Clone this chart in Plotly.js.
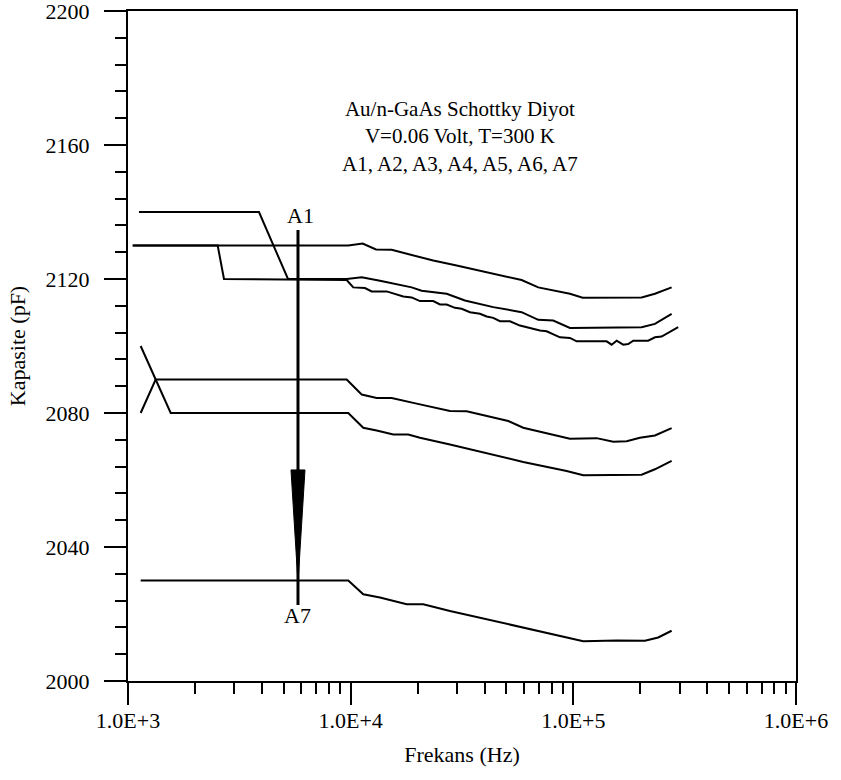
<!DOCTYPE html>
<html><head><meta charset="utf-8">
<script src="https://cdn.plot.ly/plotly-3.0.1.min.js"></script>
<style>html,body{margin:0;padding:0;background:#fff}#chart{width:841px;height:780px}</style>
</head><body><div id="chart"></div>
<script>
// Tick labels
const xTickVals = [1e3, 1e4, 1e5, 1e6];
const xTickText = ['1.0E+3', '1.0E+4', '1.0E+5', '1.0E+6'];
const xMinorVals = [2e3,3e3,4e3,5e3,6e3,7e3,8e3,9e3, 2e4,3e4,4e4,5e4,6e4,7e4,8e4,9e4, 2e5,3e5,4e5,5e5,6e5,7e5,8e5,9e5];
const yTickVals = [2000, 2040, 2080, 2120, 2160, 2200];

// Series (frequency in Hz, capacitance in pF)
const freqA = [1120, 3875, 5230, 9596, 11205, 13538, 18792, 20835, 26986, 32598, 43685, 58588, 69563, 81227, 96541, 202625, 232488, 276376];
const capA  = [2140, 2140, 2120, 2120, 2120.5, 2119.5, 2117.5, 2116.5, 2115.6, 2113.6, 2111.6, 2110.1, 2107.8, 2107.6, 2105.4, 2105.6, 2106.6, 2109.6];

const freqB = [1050, 9755, 11323, 12991, 15286, 19785, 23487, 29923, 40805, 58588, 69563, 96541, 110100, 202625, 232488, 276376];
const capB  = [2130, 2130, 2130.6, 2128.8, 2128.7, 2126.7, 2125.5, 2124.0, 2122.0, 2119.7, 2117.5, 2115.6, 2114.4, 2114.5, 2115.6, 2117.5];

const freqC = [1050, 2528, 2698, 9596, 10273, 11594, 12428, 14510, 17229, 18792, 20473, 23487, 25177, 26986, 29400, 31506, 34331, 38077, 40805, 43685, 46812, 51935, 57571, 61701, 66053, 70795, 75893, 87078, 96541, 103467, 141090, 148594, 156503, 167514, 176417, 185780, 216920, 232488, 249178, 295803];
const capC  = [2130, 2130, 2120, 2119.7, 2117.5, 2117.3, 2116.3, 2116.3, 2114.8, 2114.5, 2113.4, 2113.4, 2112.4, 2112.4, 2111.4, 2111.1, 2110.1, 2109.6, 2108.8, 2108.4, 2107.4, 2107.4, 2106.1, 2105.6, 2104.9, 2104.6, 2104.4, 2102.6, 2102.4, 2101.4, 2101.4, 2100.4, 2101.6, 2100.4, 2100.6, 2101.6, 2101.6, 2102.6, 2102.8, 2105.6];

const freqD = [1140, 1555, 9755, 11393, 13085, 15541, 18145, 20473, 27922, 43685, 59566, 93311, 110787, 202625, 232488, 276376];
const capD  = [2100, 2080, 2080, 2075.6, 2074.8, 2073.6, 2073.6, 2072.6, 2070.6, 2067.4, 2065.4, 2062.7, 2061.4, 2061.6, 2063.2, 2065.7];

const freqE = [1140, 1331, 9596, 11205, 13085, 15286, 19785, 27922, 33180, 43685, 51032, 59566, 96541, 127225, 151082, 173516, 199067, 232488, 276376];
const capE  = [2080, 2090, 2090, 2085.5, 2084.5, 2084.5, 2082.8, 2080.6, 2080.5, 2078.6, 2077.6, 2075.6, 2072.3, 2072.5, 2071.4, 2071.6, 2072.6, 2073.3, 2075.5];

const freqF = [1140, 9755, 11393, 13538, 17846, 21184, 27922, 42221, 61701, 87078, 110787, 156503, 209652, 240548, 276376];
const capF  = [2030, 2030, 2025.9, 2024.9, 2022.9, 2022.9, 2020.9, 2018.2, 2015.7, 2013.4, 2011.9, 2012.1, 2012.0, 2013.0, 2015.0];

// Arrow A1 -> A7 (data coordinates)
const arrowFreq = 5800;
const arrowCap = [2134.6, 2022.7];
const headFreq = [5395, 6235, 5800, 5395];
const headCap = [2063, 2063, 2029.3, 2063];
const labelA1 = {freq: 5950, cap: 2139, text: 'A1'};
const labelA7 = {freq: 5800, cap: 2019.5, text: 'A7'};
const infoLines = ['Au/n-GaAs Schottky Diyot', 'V=0.06 Volt, T=300 K', 'A1, A2, A3, A4, A5, A6, A7'];

const serif = 'Liberation Serif, Times New Roman, serif';
const lineStyle = {color: '#000', width: 2};
const series = [[freqA, capA], [freqB, capB], [freqC, capC], [freqD, capD], [freqE, capE], [freqF, capF]];
const traces = series.map(([f, c]) => ({x: f, y: c, type: 'scatter', mode: 'lines', line: lineStyle, hoverinfo: 'skip', showlegend: false}));
traces.push({x: [arrowFreq, arrowFreq], y: arrowCap, type: 'scatter', mode: 'lines', line: {color: '#000', width: 3}, showlegend: false, hoverinfo: 'skip'});
traces.push({x: headFreq, y: headCap, type: 'scatter', mode: 'lines', fill: 'toself', fillcolor: '#000', line: {color: '#000', width: 1}, showlegend: false, hoverinfo: 'skip'});

const layout = {
  width: 841, height: 780,
  margin: {l: 128, r: 45, t: 11, b: 99},
  paper_bgcolor: '#fff', plot_bgcolor: '#fff',
  font: {family: serif, color: '#000', size: 22},
  showlegend: false,
  xaxis: {
    type: 'log', range: [3, 6],
    showline: true, linecolor: '#000', linewidth: 2, mirror: true,
    showgrid: false, zeroline: false,
    ticks: 'outside', ticklen: 22, tickwidth: 2, tickcolor: '#000',
    tickmode: 'array', tickvals: xTickVals, ticktext: xTickText,
    ticklabelstandoff: -3, ticklabeloverflow: 'allow',
    tickfont: {family: serif, size: 22, color: '#000'},
    minor: {tickmode: 'array', tickvals: xMinorVals, ticks: 'outside', ticklen: 11, tickwidth: 2, tickcolor: '#000', showgrid: false},
    title: {text: 'Frekans (Hz)', font: {family: serif, size: 22, color: '#000'}, standoff: 14}
  },
  yaxis: {
    range: [2000, 2200],
    showline: true, linecolor: '#000', linewidth: 2, mirror: true,
    showgrid: false, zeroline: false,
    ticks: 'outside', ticklen: 22, tickwidth: 2, tickcolor: '#000',
    tickmode: 'array', tickvals: yTickVals,
    ticklabelstandoff: 10, ticklabeloverflow: 'allow',
    tickfont: {family: serif, size: 22, color: '#000'},
    minor: {dtick: 8, tick0: 2000, ticks: 'outside', ticklen: 11, tickwidth: 2, tickcolor: '#000', showgrid: false},
    title: {text: 'Kapasite (pF)', font: {family: serif, size: 22, color: '#000'}, standoff: 14}
  },
  annotations: [
    {xref: 'paper', yref: 'paper', x: 0.497, y: 0.812, xanchor: 'center', yanchor: 'middle', showarrow: false,
     text: infoLines.join('<br>'), align: 'center', font: {family: serif, size: 21, color: '#000'}},
    {xref: 'x', yref: 'y', x: Math.log10(labelA1.freq), y: labelA1.cap, text: labelA1.text, showarrow: false, xanchor: 'center', yanchor: 'middle', font: {family: serif, size: 22, color: '#000'}},
    {xref: 'x', yref: 'y', x: Math.log10(labelA7.freq), y: labelA7.cap, text: labelA7.text, showarrow: false, xanchor: 'center', yanchor: 'middle', font: {family: serif, size: 22, color: '#000'}}
  ]
};

Plotly.newPlot('chart', traces, layout, {staticPlot: true, displayModeBar: false});
</script>
</body></html>
